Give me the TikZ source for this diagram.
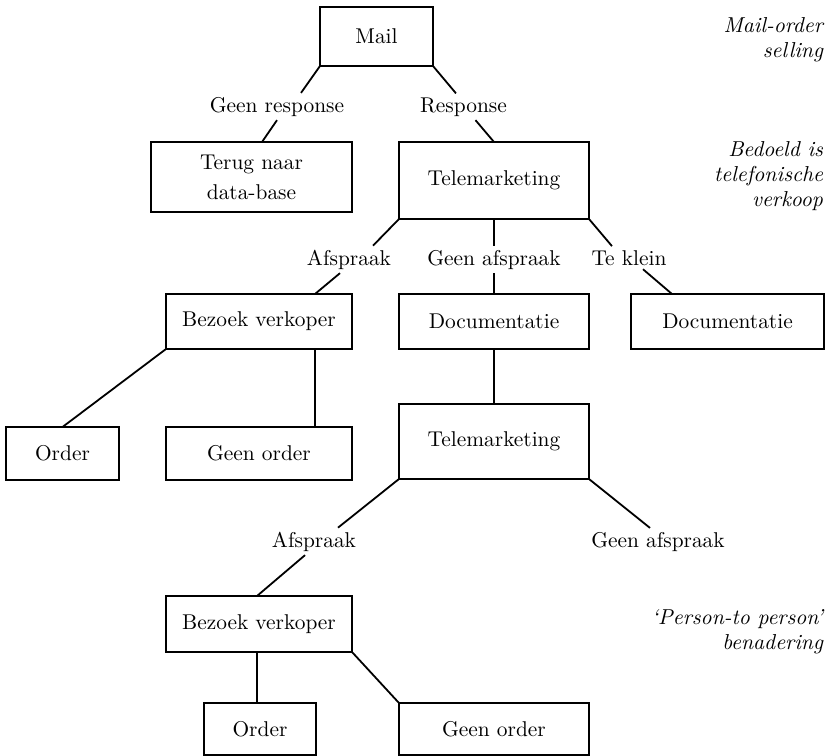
\documentclass[tikz,border=0pt]{standalone}
\usetikzlibrary{calc}
\newcommand\boxfont{\fontsize{10.7}{15}\selectfont}
\newcommand\notefont{\fontsize{10.8}{12.4}\selectfont\itshape}
\tikzset{
  box/.style={draw, line width=0.9pt, inner sep=0pt, outer sep=0pt, font=\boxfont, align=center},
  lbl/.style={inner sep=2pt, outer sep=0pt, font=\boxfont, anchor=base},
  note/.style={inner sep=0pt, outer sep=0pt, font=\notefont, align=right, anchor=north east},
  conn/.style={line width=0.9pt}
}
\begin{document}
\begin{tikzpicture}[x=0.5pt,y=-0.5pt]
\useasboundingbox (0,0) rectangle (827,756);
% boxes
\node[box, minimum width=56.5pt, minimum height=29.5pt] (mail) at (376.5,36.5) {Mail};
\node[box, minimum width=100.5pt, minimum height=35pt] (terug) at (251.5,177) {Terug naar\\data-base};
\node[box, minimum width=95pt, minimum height=38.5pt] (tel1) at (494,180.5) {Telemarketing};
\node[box, minimum width=93pt, minimum height=27.5pt] (bez) at (259,321.5) {Bezoek verkoper};
\node[box, minimum width=95pt, minimum height=27.5pt] (doc) at (494,321.5) {Documentatie};
\node[box, minimum width=96.5pt, minimum height=27.5pt] (doc2) at (727.5,321.5) {Documentatie};
\node[box, minimum width=56.5pt, minimum height=26.5pt] (order) at (62.5,453.5) {Order};
\node[box, minimum width=93pt, minimum height=26.5pt] (gorder) at (259,453.5) {Geen order};
\node[box, minimum width=95pt, minimum height=37.5pt] (tel2) at (494,441.5) {Telemarketing};
\node[box, minimum width=93pt, minimum height=28pt] (bez2) at (259,624) {Bezoek verkoper};
\node[box, minimum width=56pt, minimum height=26pt] (order2) at (260,729) {Order};
\node[box, minimum width=95pt, minimum height=26pt] (gorder2) at (494,729) {Geen order};
% labels
\node[lbl] (gr) at (277,112) {Geen response};
\node[lbl] (resp) at (463.5,112) {Response};
\node[lbl] (afs1) at (349,265) {Afspraak};
\node[lbl] (gaf1) at (494,265) {Geen afspraak};
\node[lbl] (tk) at (629,265) {Te klein};
\node[lbl] (afs2) at (314,547) {Afspraak};
\node[lbl] (gaf2) at (658,547) {Geen afspraak};
% notes
\node[note] (n1) at (823,18) {Mail-order\\selling};
\node[note] (n2) at (823,142) {Bedoeld is\\telefonische\\verkoop};
\node[note] (n3) at (823,610) {\textquoteleft Person-to person\textquoteright\\benadering};
% connectors
\draw[conn] (mail.south west) -- ([xshift=12pt]gr.north);
\draw[conn] (gr.south) -- ([xshift=5.25pt]terug.north);
\draw[conn] (mail.south east) -- ([xshift=-3.75pt]resp.north);
\draw[conn] ([xshift=6pt]resp.south) -- (tel1.north);
\draw[conn] (tel1.south west) -- ([xshift=12pt]afs1.north);
\draw[conn] ([xshift=-4.5pt]afs1.south) -- ([xshift=28pt]bez.north);
\draw[conn] (tel1.south) -- (gaf1.north);
\draw[conn] (gaf1.south) -- (doc.north);
\draw[conn] (tel1.south east) -- ([xshift=-8.5pt]tk.north);
\draw[conn] ([xshift=7pt]tk.south) -- ([xshift=-27.75pt]doc2.north);
\draw[conn] (bez.south west) -- (order.north);
\draw[conn] ([xshift=28pt]bez.south) -- ([xshift=28pt]gorder.north);
\draw[conn] (doc.south) -- (tel2.north);
\draw[conn] (tel2.south west) -- ([xshift=12pt]afs2.north);
\draw[conn] ([xshift=-4.5pt]afs2.south) -- ([xshift=-1pt]bez2.north);
\draw[conn] (tel2.south east) -- ([xshift=-4pt]gaf2.north);
\draw[conn] ([xshift=-1pt]bez2.south) -- ([xshift=-1.5pt]order2.north);
\draw[conn] (bez2.south east) -- (gorder2.north west);
\end{tikzpicture}
\end{document}
